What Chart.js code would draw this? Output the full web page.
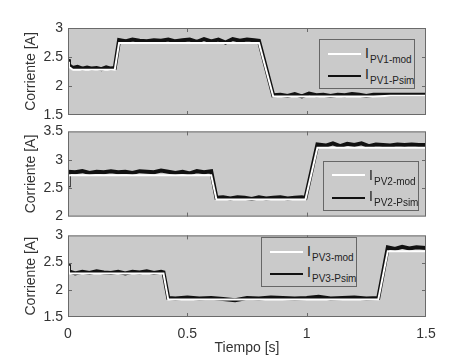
<!DOCTYPE html>
<html>
<head>
<meta charset="utf-8">
<script src="https://cdn.jsdelivr.net/npm/chart.js@4/dist/chart.umd.min.js"></script>
<style>
  body { margin: 0; background: #fff; }
  #wrap { position: relative; width: 463px; height: 361px; font-family: "Liberation Sans", Arial, sans-serif; color: #222; }
  canvas { position: absolute; left: 0; }
  .leg { position: absolute; width: 94px; height: 48px; border: 1px solid #666; background: #cacaca; }
  .leg .ln { position: absolute; left: 8px; width: 33px; height: 2px; }
  .leg .i { position: absolute; left: 45px; font-size: 14px; line-height: 14px; }
  .leg .s { position: absolute; left: 50px; font-size: 10px; line-height: 10px; white-space: nowrap; }
</style>
</head>
<body>
<div id="wrap">
  <canvas id="p1" width="463" height="130" style="top:0"></canvas>
  <canvas id="p2" width="463" height="112" style="top:118px"></canvas>
  <canvas id="p3" width="463" height="139" style="top:222px"></canvas>

  <div class="leg" style="left:319px;top:39px">
    <div class="ln" style="top:13px;background:#fff"></div><span class="i" style="top:6px">I</span><span class="s" style="top:15px">PV1-mod</span>
    <div class="ln" style="top:35px;background:#111"></div><span class="i" style="top:27px">I</span><span class="s" style="top:36px">PV1-Psim</span>
  </div>
  <div class="leg" style="left:323px;top:161px">
    <div class="ln" style="top:12px;background:#fff"></div><span class="i" style="top:6px">I</span><span class="s" style="top:15px">PV2-mod</span>
    <div class="ln" style="top:35px;background:#111"></div><span class="i" style="top:27px">I</span><span class="s" style="top:36px">PV2-Psim</span>
  </div>
  <div class="leg" style="left:261px;top:237px">
    <div class="ln" style="top:13px;background:#fff"></div><span class="i" style="top:6px">I</span><span class="s" style="top:15px">PV3-mod</span>
    <div class="ln" style="top:35px;background:#111"></div><span class="i" style="top:27px">I</span><span class="s" style="top:36px">PV3-Psim</span>
  </div>
</div>
<script>
// Panel 1 - PV1
const t1 = [0, 0.004, 0.02, 0.04, 0.06, 0.08, 0.10, 0.12, 0.14, 0.16, 0.18, 0.196,
  0.214, 0.24, 0.27, 0.30, 0.33, 0.36, 0.39, 0.42, 0.45, 0.48,
  0.51, 0.54, 0.57, 0.60, 0.63, 0.66, 0.69, 0.72, 0.75, 0.78, 0.80,
  0.86, 0.89, 0.92, 0.95, 0.98, 1.01, 1.04, 1.07, 1.10, 1.13,
  1.16, 1.19, 1.22, 1.25, 1.28, 1.35, 1.42, 1.5];
const psim1 = [2.46, 2.36, 2.31, 2.33, 2.30, 2.32, 2.30, 2.31, 2.29, 2.32, 2.30, 2.31,
  2.79, 2.77, 2.80, 2.78, 2.77, 2.79, 2.78, 2.80, 2.77, 2.79,
  2.80, 2.76, 2.81, 2.77, 2.80, 2.75, 2.81, 2.78, 2.80, 2.79, 2.78,
  1.84, 1.85, 1.83, 1.86, 1.82, 1.87, 1.84, 1.85, 1.83, 1.85,
  1.84, 1.86, 1.85, 1.83, 1.85, 1.85, 1.85, 1.85];
const mod1 = [2.42, 2.33, 2.28, 2.28, 2.28, 2.28, 2.28, 2.28, 2.28, 2.28, 2.28, 2.28,
  2.74, 2.74, 2.74, 2.74, 2.74, 2.74, 2.74, 2.74, 2.74, 2.74,
  2.74, 2.74, 2.74, 2.74, 2.74, 2.74, 2.74, 2.74, 2.74, 2.74, 2.74,
  1.82, 1.82, 1.82, 1.82, 1.82, 1.82, 1.82, 1.82, 1.82, 1.82,
  1.82, 1.82, 1.82, 1.82, 1.82, 1.83, 1.83, 1.83];

// Panel 2 - PV2
const t2 = [0, 0.003, 0.03, 0.06, 0.09, 0.12, 0.15, 0.18, 0.21, 0.24, 0.27, 0.30, 0.33, 0.36, 0.39, 0.42, 0.45, 0.48, 0.51, 0.54, 0.57, 0.60,
  0.622, 0.65, 0.68, 0.71, 0.74, 0.77, 0.80, 0.83, 0.86, 0.89, 0.92, 0.95, 0.98, 0.995,
  1.045, 1.08, 1.11, 1.14, 1.17, 1.20, 1.23, 1.26, 1.29, 1.32, 1.35, 1.38, 1.41, 1.44, 1.47, 1.5];
const psim2 = [2.55, 2.79, 2.78, 2.80, 2.77, 2.79, 2.78, 2.80, 2.78, 2.79, 2.77, 2.80, 2.79, 2.78, 2.81, 2.79, 2.77, 2.79, 2.76, 2.80, 2.78, 2.80,
  2.33, 2.34, 2.32, 2.34, 2.33, 2.31, 2.34, 2.32, 2.33, 2.34, 2.32, 2.33, 2.34, 2.33,
  3.27, 3.25, 3.29, 3.24, 3.28, 3.26, 3.29, 3.24, 3.27, 3.26, 3.25, 3.27, 3.26, 3.27, 3.26, 3.26];
const mod2 = [2.55, 2.73, 2.73, 2.73, 2.73, 2.73, 2.73, 2.73, 2.73, 2.73, 2.73, 2.73, 2.73, 2.73, 2.73, 2.73, 2.73, 2.73, 2.73, 2.73, 2.73, 2.73,
  2.30, 2.30, 2.30, 2.30, 2.30, 2.30, 2.30, 2.30, 2.30, 2.30, 2.30, 2.30, 2.30, 2.30,
  3.21, 3.21, 3.21, 3.21, 3.21, 3.21, 3.21, 3.21, 3.21, 3.21, 3.21, 3.21, 3.21, 3.21, 3.21, 3.21];

// Panel 3 - PV3
const t3 = [0, 0.004, 0.03, 0.06, 0.09, 0.12, 0.15, 0.18, 0.21, 0.24, 0.27, 0.30, 0.33, 0.36, 0.39, 0.40,
  0.42, 0.45, 0.50, 0.55, 0.60, 0.65, 0.70, 0.75, 0.80, 0.85, 0.90, 0.95, 1.0, 1.05, 1.10, 1.15, 1.20, 1.25, 1.30,
  1.34, 1.37, 1.40, 1.43, 1.46, 1.5];
const psim3 = [2.47, 2.34, 2.30, 2.33, 2.31, 2.34, 2.32, 2.31, 2.33, 2.30, 2.33, 2.32, 2.34, 2.31, 2.33, 2.32,
  1.85, 1.84, 1.86, 1.84, 1.85, 1.83, 1.81, 1.85, 1.84, 1.86, 1.85, 1.84, 1.85, 1.87, 1.84, 1.85, 1.86, 1.84, 1.85,
  2.78, 2.75, 2.79, 2.76, 2.78, 2.77];
const mod3 = [2.44, 2.30, 2.30, 2.30, 2.30, 2.30, 2.30, 2.30, 2.30, 2.30, 2.30, 2.30, 2.30, 2.30, 2.30, 2.30,
  1.82, 1.82, 1.82, 1.82, 1.82, 1.82, 1.82, 1.82, 1.82, 1.82, 1.82, 1.82, 1.82, 1.82, 1.82, 1.82, 1.82, 1.82, 1.82,
  2.71, 2.71, 2.71, 2.71, 2.71, 2.71];

const xTickVals = [0, 0.5, 1, 1.5];
const FONT = '"Liberation Sans", Arial, sans-serif';
const TXT = '#333';

// matlab-style numbers: 1 not 1.0
const fmt = v => String(Math.round(v * 10) / 10);

// plot box: gray background, dark frame and inward ticks like matlab
const framePlugin = {
  id: 'frame',
  beforeDatasetsDraw(chart) {
    const a = chart.chartArea, ctx = chart.ctx;
    ctx.save();
    ctx.fillStyle = '#cacaca';
    ctx.fillRect(a.left, a.top, a.right - a.left, a.bottom - a.top);
    ctx.restore();
  },
  afterDraw(chart) {
    const a = chart.chartArea, ctx = chart.ctx;
    const xs = chart.scales.x, ys = chart.scales.y;
    ctx.save();
    ctx.strokeStyle = '#6a6a6a';
    ctx.lineWidth = 1;
    ctx.strokeRect(a.left + 0.5, a.top + 0.5, a.right - a.left - 1, a.bottom - a.top - 1);
    ctx.beginPath();
    xTickVals.slice(1, -1).forEach(v => {
      const px = Math.round(xs.getPixelForValue(v)) + 0.5;
      ctx.moveTo(px, a.bottom); ctx.lineTo(px, a.bottom - 4);
      ctx.moveTo(px, a.top); ctx.lineTo(px, a.top + 4);
    });
    ys.ticks.slice(1, -1).forEach(t => {
      const py = Math.round(ys.getPixelForValue(t.value)) + 0.5;
      ctx.moveTo(a.left, py); ctx.lineTo(a.left + 4, py);
      ctx.moveTo(a.right, py); ctx.lineTo(a.right - 4, py);
    });
    ctx.stroke();
    ctx.restore();
  }
};

function pts(t, v) {
  return t.map((x, i) => ({ x: x, y: v[i] }));
}

function makeChart(id, t, psim, mod, ymin, ymax, pad, showX) {
  return new Chart(document.getElementById(id), {
    type: 'line',
    data: {
      datasets: [
        { label: 'mod', data: pts(t, mod), borderColor: '#ffffff', borderWidth: 2, pointRadius: 0, tension: 0 },
        { label: 'Psim', data: pts(t, psim), borderColor: '#111111', borderWidth: 4, pointRadius: 0, tension: 0 }
      ]
    },
    options: {
      responsive: false,
      animation: false,
      layout: { padding: pad },
      plugins: { legend: { display: false }, tooltip: { enabled: false } },
      scales: {
        x: {
          type: 'linear', min: 0, max: 1.5,
          display: showX,
          grid: { display: false, drawTicks: false },
          border: { display: false },
          afterBuildTicks: s => { s.ticks = xTickVals.map(v => ({ value: v })); },
          ticks: { color: TXT, font: { family: FONT, size: 14 }, padding: 9, autoSkip: false, maxRotation: 0, callback: v => fmt(v) },
          title: { display: showX, text: 'Tiempo [s]', color: TXT, font: { family: FONT, size: 14 }, padding: { top: 4, bottom: 0 } },
          afterFit: s => { s.height = showX ? 40 : 0; }
        },
        y: {
          min: ymin, max: ymax,
          grid: { display: false, drawTicks: false },
          border: { display: false },
          ticks: { stepSize: 0.5, color: TXT, font: { family: FONT, size: 14 }, padding: 5, autoSkip: false, callback: v => fmt(v) },
          title: { display: true, text: 'Corriente [A]', color: TXT, font: { family: FONT, size: 14 }, padding: { top: 23, bottom: 0 } },
          afterFit: s => { s.width = 68; }
        }
      }
    },
    plugins: [framePlugin]
  });
}

makeChart('p1', t1, psim1, mod1, 1.5, 3, { top: 28, bottom: 15, left: 0, right: 37 }, false);
makeChart('p2', t2, psim2, mod2, 2, 3.5, { top: 10, bottom: 13, left: 0, right: 37 }, false);
makeChart('p3', t3, psim3, mod3, 1.5, 3, { top: 11, bottom: 4, left: 0, right: 37 }, true);
</script>
</body>
</html>
